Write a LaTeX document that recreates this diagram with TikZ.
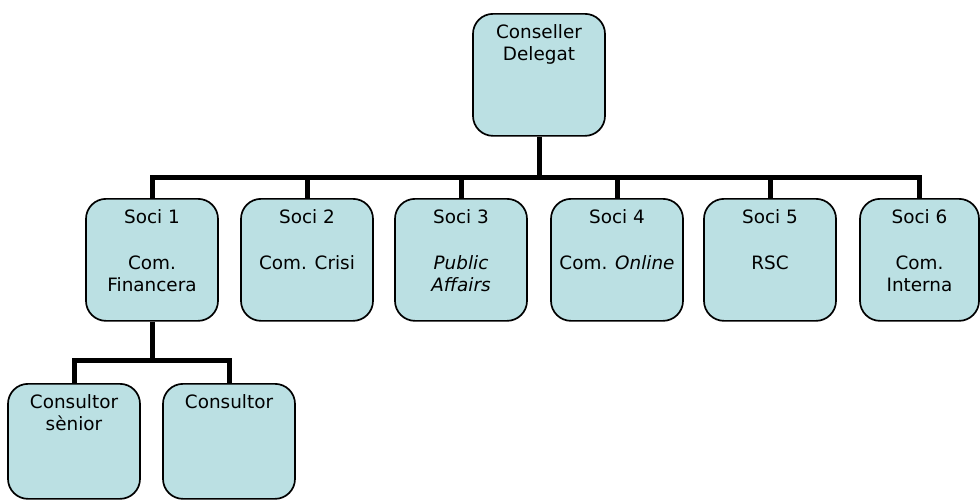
\documentclass[tikz,border=0pt]{standalone}
\usepackage{fontspec}
\setmainfont{DejaVu Sans}

\definecolor{boxfill}{RGB}{187,224,227}

% box content: width, height, text (set from the top)
\newcommand{\orgtext}[3]{\parbox[c][#2][t]{#1}{\centering\vspace*{4.6pt}\strut#3}}

\tikzset{
  orgbox/.style={draw, line width=0.85pt, rounded corners=10pt, fill=boxfill,
    inner sep=0pt, anchor=north, font=\fontsize{9.2}{11}\selectfont},
  link/.style={line width=2.5pt, line join=miter}
}

\begin{document}
\begin{tikzpicture}[x=0.5pt, y=-0.5pt]

\useasboundingbox (0,0) rectangle (980,500);

% Top of the chart
\node[orgbox] (cd) at (539,13) {\orgtext{66pt}{61pt}{Conseller\\Delegat}};

% Partners
\node[orgbox] (s1) at (152,198) {\orgtext{66pt}{61pt}{Soci 1\\[12pt]Com.\\Financera}};
\node[orgbox] (s2) at (307,198) {\orgtext{66pt}{61pt}{Soci 2\\[12pt]Com. Crisi}};
\node[orgbox] (s3) at (461,198) {\orgtext{66pt}{61pt}{Soci 3\\[12pt]\textit{Public}\\\textit{Affairs}}};
\node[orgbox] (s4) at (617,198) {\orgtext{66pt}{61pt}{Soci 4\\[12pt]Com. \textit{Online}}};
\node[orgbox] (s5) at (770,198) {\orgtext{66pt}{61pt}{Soci 5\\[12pt]RSC}};
\node[orgbox] (s6) at (919.5,198) {\orgtext{59.5pt}{61pt}{Soci 6\\[12pt]Com.\\Interna}};

% Consultants
\node[orgbox] (c1) at (74,383) {\orgtext{66pt}{57.5pt}{Consultor\\sènior}};
\node[orgbox] (c2) at (229,383) {\orgtext{66pt}{57.5pt}{Consultor}};

% Connectors
\coordinate (bar) at (0,177);
\coordinate (subbar) at (0,360);
\draw[link] (cd.south) -- (cd.south |- bar);
\draw[link] (s1.north) -- (s1.north |- bar) -- (s6.north |- bar) -- (s6.north);
\foreach \s in {s2,s3,s4,s5}
  \draw[link] (\s.north) -- (\s.north |- bar);
\draw[link] (s1.south) -- (s1.south |- subbar);
\draw[link] (c1.north) -- (c1.north |- subbar) -- (c2.north |- subbar) -- (c2.north);

\end{tikzpicture}
\end{document}
